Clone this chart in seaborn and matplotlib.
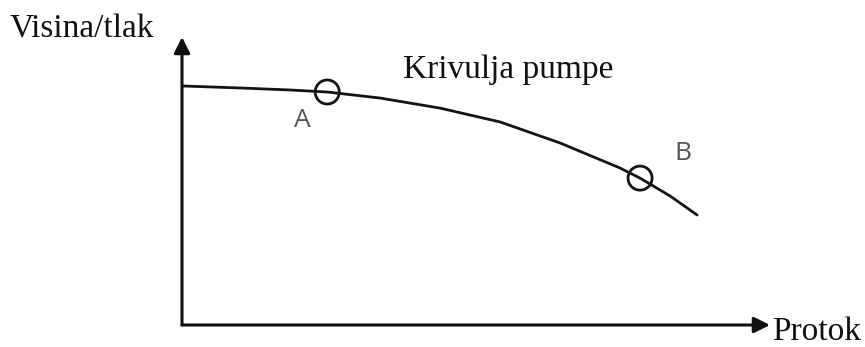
import matplotlib

matplotlib.use("Agg")

import matplotlib.pyplot as plt
import pandas as pd
import seaborn as sns

# pump curve (flow 0-100, head 0-100)
FLOW = [0, 9.9, 18.4, 24.7, 33.7, 43.9, 54.1, 64.3, 74.5, 77.9, 83.0, 87.6]
HEAD = [83.0, 82.3, 81.6, 80.9, 78.8, 75.3, 70.5, 63.2, 54.5, 51.0, 44.8, 38.2]

POINT_NAMES = ["A", "B"]
POINT_FLOW = [24.7, 77.9]
POINT_HEAD = [80.9, 51.0]
LABEL_FLOW = [20.4, 85.2]
LABEL_HEAD = [71.0, 59.4]

W, H = 865, 347

sns.set_theme(style="white")
plt.rcParams["font.family"] = ["Liberation Serif", "DejaVu Serif"]

fig = plt.figure(figsize=(W / 100, H / 100), dpi=100)
ax = fig.add_axes([182 / W, (H - 325) / H, (770 - 182) / W, (325 - 37) / H])
ax.set_xlim(0, 100)
ax.set_ylim(0, 100)
ax.axis("off")

curve = pd.DataFrame({"flow": FLOW, "head": HEAD})
sns.lineplot(data=curve, x="flow", y="head", color="#141414", linewidth=2.0, sort=False, ax=ax)

points = pd.DataFrame({"flow": POINT_FLOW, "head": POINT_HEAD})
sns.scatterplot(data=points, x="flow", y="head", marker="o", s=300, facecolor="none",
                edgecolor="#141414", linewidth=2.0, ax=ax, zorder=3)

for name, fx, hy in zip(POINT_NAMES, LABEL_FLOW, LABEL_HEAD):
    ax.text(fx, hy, name, ha="center", va="center", fontsize=19, color="#555555",
            family=["Open Sans", "DejaVu Sans"])

arrow = dict(arrowstyle="-|>", lw=2.2, color="#111111", mutation_scale=24, shrinkA=0, shrinkB=0)
ax.annotate("", xy=(1, 0), xytext=(0, 0), xycoords="axes fraction", arrowprops=arrow)
ax.annotate("", xy=(0, 1), xytext=(0, 0), xycoords="axes fraction", arrowprops=arrow)

fig.text(10 / W, (H - 38) / H, "Visina/tlak", fontsize=24, color="#111111", va="baseline")
fig.text(403 / W, (H - 78) / H, "Krivulja pumpe", fontsize=24, color="#111111", va="baseline")
fig.text(772 / W, (H - 340) / H, "Protok", fontsize=24, color="#111111", va="baseline")

fig.savefig("out.png", dpi=100)
